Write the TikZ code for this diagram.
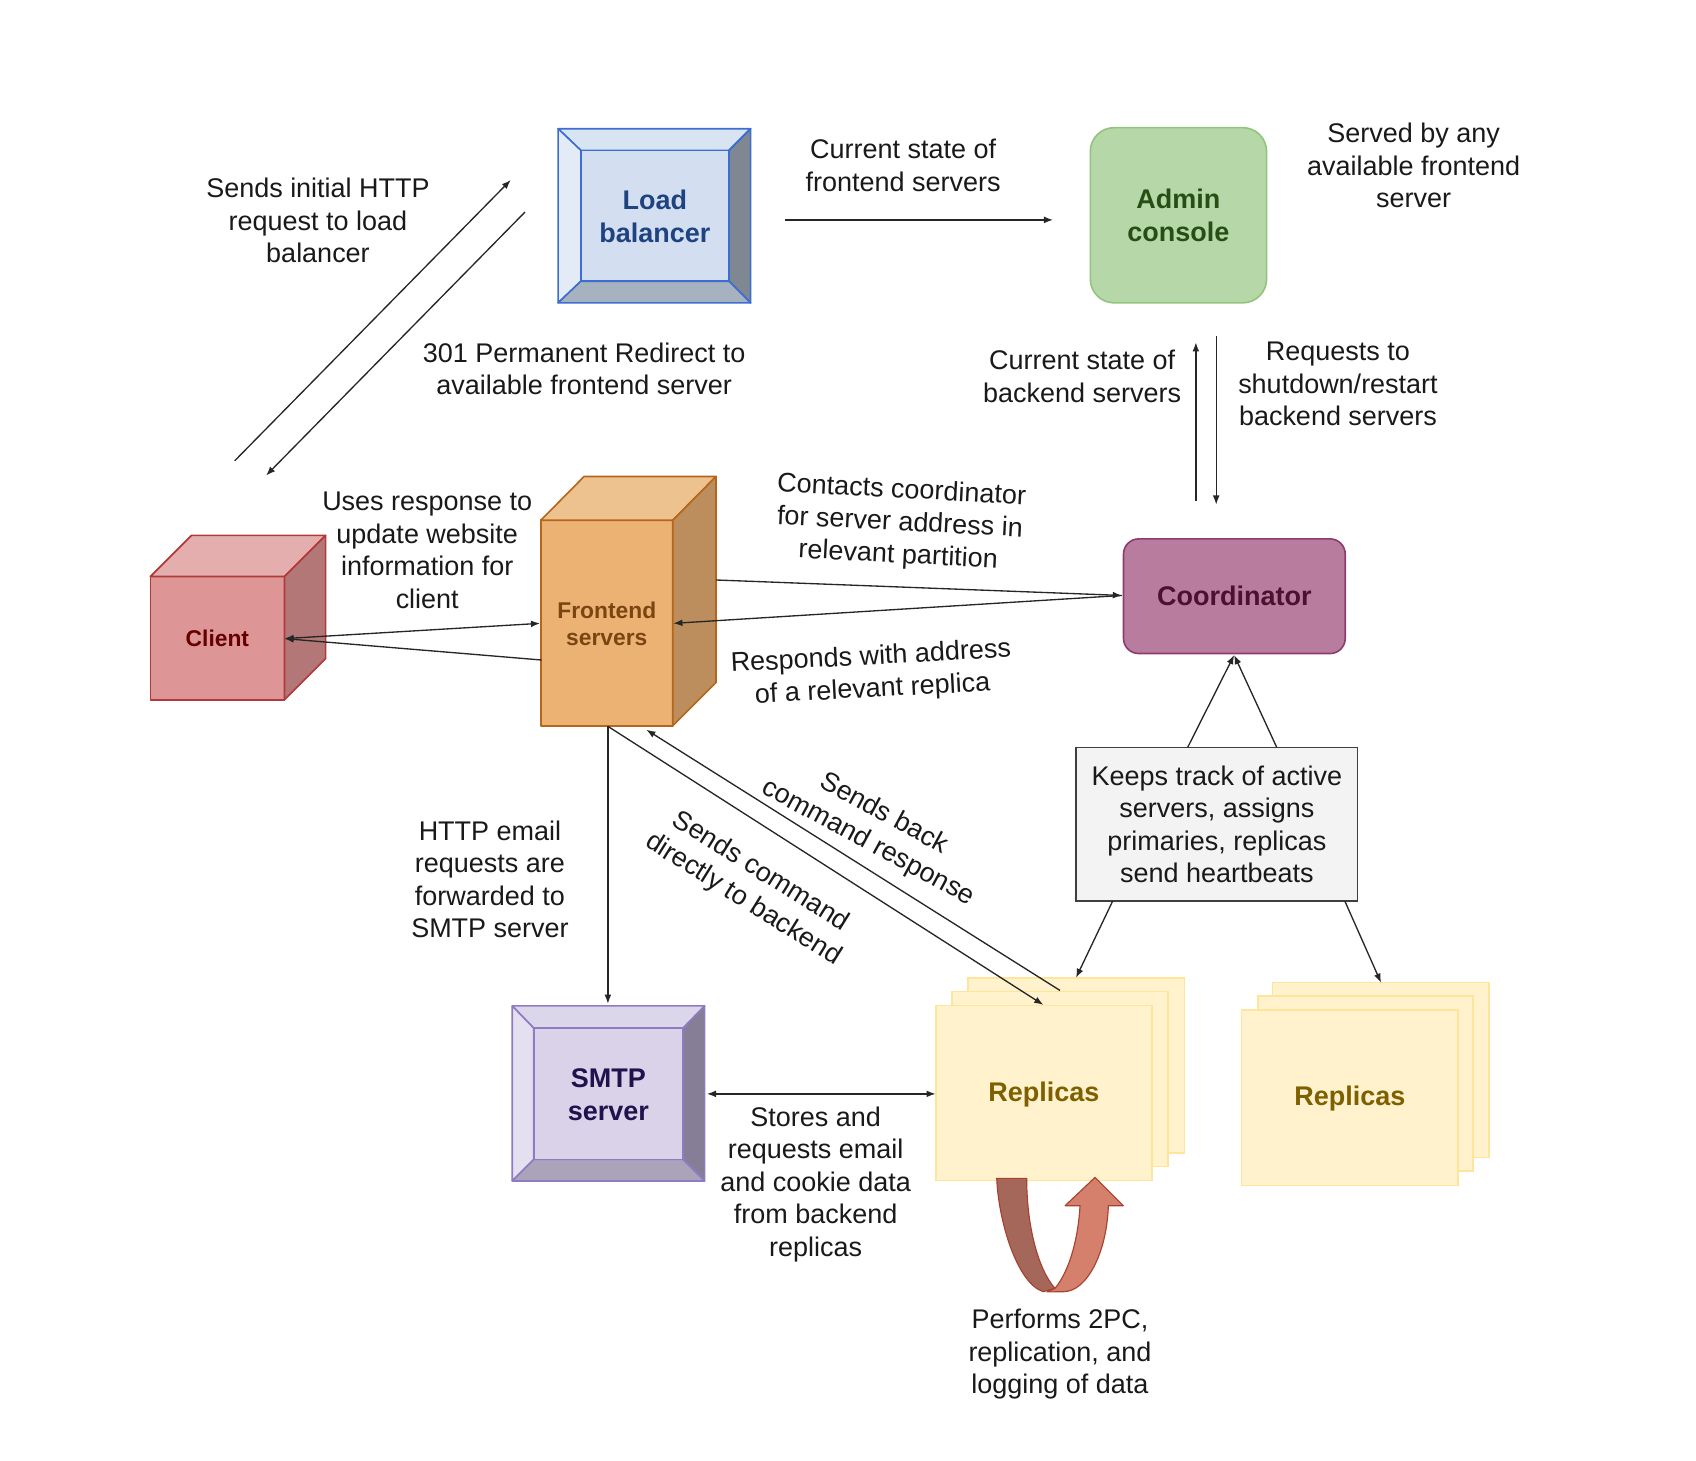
\documentclass[tikz,border=0pt]{standalone}
\usepackage{fontspec}
\setmainfont{Liberation Sans}
\usetikzlibrary{arrows.meta}
\definecolor{lbtop}{HTML}{D9E4F3}
\definecolor{lbleft}{HTML}{E3EBF7}
\definecolor{lbin}{HTML}{D3DFF0}
\definecolor{lbright}{HTML}{7E8792}
\definecolor{lbbot}{HTML}{A7B2C0}
\definecolor{lbline}{HTML}{3C6DD3}
\definecolor{lbtext}{HTML}{1F4380}
\definecolor{smtop}{HTML}{DCD6EA}
\definecolor{smleft}{HTML}{E4E0EF}
\definecolor{smin}{HTML}{D9D2E9}
\definecolor{smright}{HTML}{857E96}
\definecolor{smbot}{HTML}{AAA3B9}
\definecolor{smline}{HTML}{8E7CC3}
\definecolor{smtext}{HTML}{20124D}
\definecolor{adfill}{HTML}{B6D7A8}
\definecolor{adline}{HTML}{93C47D}
\definecolor{adtext}{HTML}{274E13}
\definecolor{cofill}{HTML}{B77C9E}
\definecolor{coline}{HTML}{8E3C6E}
\definecolor{cotext}{HTML}{4C1130}
\definecolor{clfront}{HTML}{DE9595}
\definecolor{cltop}{HTML}{E4AEAE}
\definecolor{clright}{HTML}{B37777}
\definecolor{clline}{HTML}{B03A3A}
\definecolor{cltext}{HTML}{660000}
\definecolor{fefront}{HTML}{EBB274}
\definecolor{fetop}{HTML}{EEC28E}
\definecolor{feright}{HTML}{BC8E5D}
\definecolor{feline}{HTML}{B4661C}
\definecolor{fetext}{HTML}{7A4510}
\definecolor{rpfill}{HTML}{FFF2CC}
\definecolor{rpline}{HTML}{FFE599}
\definecolor{rptext}{HTML}{7F6000}
\definecolor{kpfill}{HTML}{F3F3F3}
\definecolor{kpline}{HTML}{3F3F3F}
\definecolor{uadark}{HTML}{A6675B}
\definecolor{ualight}{HTML}{D4806C}
\definecolor{ualine}{HTML}{A8412F}
\begin{document}
\begin{tikzpicture}[x=0.02cm,y=-0.02cm,
  txt/.style={align=center,font=\fontsize{14.2}{17.1}\selectfont,inner sep=0pt,text=black!90},
  btxt/.style={align=center,font=\fontsize{14.2}{17.1}\selectfont\bfseries,inner sep=0pt},
  sbtxt/.style={align=center,font=\fontsize{12}{14.2}\selectfont\bfseries,inner sep=0pt},
  conn/.style={line width=0.7pt,draw=black!85},
  arr/.style={conn,-{Latex[length=4.8pt,width=3.6pt]}},
  darr/.style={conn,{Latex[length=4.8pt,width=3.6pt]}-{Latex[length=4.8pt,width=3.6pt]}},
  facet/.style={line width=0.85pt,line join=round},
  repbox/.style={fill=rpfill,draw=rpline,line width=0.8pt}]
\useasboundingbox (0,0) rectangle (1568,1350);

% ---------- Load balancer (bevel) ----------
\begin{scope}[facet,draw=lbline]
\filldraw[fill=lbtop] (516,119)--(694,119)--(674,139)--(537,139)--cycle;
\filldraw[fill=lbleft] (516,119)--(537,139)--(537,260)--(516,280)--cycle;
\filldraw[fill=lbright] (694,119)--(694,280)--(674,260)--(674,139)--cycle;
\filldraw[fill=lbbot] (516,280)--(694,280)--(674,260)--(537,260)--cycle;
\filldraw[fill=lbin] (537,139) rectangle (674,260);
\end{scope}
\node[btxt,text=lbtext] (lb) at (605.5,200) {Load\\balancer};

% ---------- Admin console ----------
\node[btxt,text=adtext,fill=adfill,draw=adline,line width=0.85pt,rounded corners=0.44cm,
  minimum width=3.26cm,minimum height=3.24cm] (admin) at (1089.5,199) {Admin\\console};

% ---------- Client cube ----------
\begin{scope}[facet,draw=clline]
\filldraw[fill=clfront] (139,533) rectangle (263,647);
\filldraw[fill=cltop] (139,533)--(177,495)--(301,495)--(263,533)--cycle;
\filldraw[fill=clright] (263,533)--(301,495)--(301,609)--(263,647)--cycle;
\end{scope}
\node[sbtxt,text=cltext] (client) at (201,590) {Client};

% ---------- Frontend cube ----------
\begin{scope}[facet,draw=feline]
\filldraw[fill=fefront] (500,481) rectangle (622,671);
\filldraw[fill=fetop] (500,481)--(540,440.5)--(662,440.5)--(622,481)--cycle;
\filldraw[fill=feright] (622,481)--(662,440.5)--(662,631)--(622,671)--cycle;
\end{scope}
\node[sbtxt,text=fetext] (fe) at (561,577) {Frontend\\servers};

% ---------- Coordinator ----------
\node[btxt,text=cotext,fill=cofill,draw=coline,line width=0.85pt,rounded corners=0.28cm,
  minimum width=4.1cm,minimum height=2.12cm] (coord) at (1141.2,551.2) {Coordinator};

% ---------- Keeps track box ----------
\node[txt,fill=kpfill,draw=kpline,line width=0.85pt,
  minimum width=5.2cm,minimum height=2.84cm] (keeps) at (1125,762) {Keeps track of active\\servers, assigns\\primaries, replicas\\send heartbeats};

% ---------- SMTP (bevel) ----------
\begin{scope}[facet,draw=smline]
\filldraw[fill=smtop] (473.6,930)--(651.4,930)--(631.5,950.6)--(493.5,950.6)--cycle;
\filldraw[fill=smleft] (473.6,930)--(493.5,950.6)--(493.5,1071.9)--(473.6,1091.8)--cycle;
\filldraw[fill=smright] (651.4,930)--(651.4,1091.8)--(631.5,1071.9)--(631.5,950.6)--cycle;
\filldraw[fill=smbot] (473.6,1091.8)--(651.4,1091.8)--(631.5,1071.9)--(493.5,1071.9)--cycle;
\filldraw[fill=smin] (493.5,950.6) rectangle (631.5,1071.9);
\end{scope}
\node[btxt,text=smtext] (smtp) at (562.5,1012) {SMTP\\server};

% ---------- Replicas stacks ----------
\draw[repbox] (895,904) rectangle (1095,1066);
\draw[repbox] (880,916.5) rectangle (1080,1078.5);
\draw[repbox] (865.5,929.5) rectangle (1065,1091.5);
\node[btxt,text=rptext] (repA) at (965,1012) {Replicas};
\draw[repbox] (1176.6,908.5) rectangle (1376.4,1070.3);
\draw[repbox] (1163,920.6) rectangle (1361.6,1082.4);
\draw[repbox] (1148,933.8) rectangle (1348,1096);
\node[btxt,text=rptext] (repB) at (1248,1016) {Replicas};

% ---------- U-turn arrow ----------
\filldraw[fill=uadark,draw=ualine,line width=0.6pt,line join=round]
  (921.5,1089.4) -- (949.2,1089.4) .. controls (949.2,1134) and (960,1174) .. (975.4,1191.1)
  -- (964.6,1194.2) .. controls (940,1186.5) and (923,1128) .. (921.5,1089.4) -- cycle;
\filldraw[fill=ualight,draw=ualine,line width=0.6pt,line join=round]
  (975.4,1191.1) .. controls (989.3,1174.2) and (997,1143.3) .. (998.5,1114.7)
  -- (984.7,1114.7) -- (1012.4,1088.5) -- (1038.6,1114.7) -- (1024.7,1114.7)
  .. controls (1023.2,1158.7) and (1004.7,1194.2) .. (983.1,1194.2) -- (968,1194.4) -- cycle;

% ---------- connector end points ----------
\coordinate (cl1) at (217,426);
\coordinate (lbIn) at (472.2,166.4);
\coordinate (lbOut) at (485.4,196);
\coordinate (cl2) at (246,439.6);
\coordinate (lbR) at (725.9,203.3);
\coordinate (adL) at (973.6,203.3);
\coordinate (coUpA) at (1105.6,462.8);
\coordinate (adUpA) at (1105.6,316.5);
\coordinate (adDnA) at (1124.4,310.8);
\coordinate (coDnA) at (1124.4,466.5);
\coordinate (clE) at (263,590.4);
\coordinate (feW1) at (499.3,576.3);
\coordinate (feW2) at (500.8,610.2);
\coordinate (feR1) at (662,536.2);
\coordinate (coW) at (1037.2,550.5);
\coordinate (feE) at (622.5,576.3);
\coordinate (coS) at (1141,605.6);
\coordinate (kpT1) at (1098,691);
\coordinate (kpT2) at (1180.4,691);
\coordinate (kpB1) at (1028.7,833);
\coordinate (rpA) at (994.8,904);
\coordinate (kpB2) at (1243.3,833);
\coordinate (rpB) at (1276.8,908.5);
\coordinate (feB) at (562,671.5);
\coordinate (smT) at (562,928);
\coordinate (rpIn) at (964.6,929);
\coordinate (rpOut) at (980,915.7);
\coordinate (feBR) at (597.5,674.6);
\coordinate (smE) at (653.6,1011.3);
\coordinate (rpW) at (865,1011.3);

% ---------- connectors ----------
\draw[arr] (cl1) -- (lbIn);
\draw[arr] (lbOut) -- (cl2);
\draw[arr] (lbR) -- (adL);
\draw[arr] (coUpA) -- (adUpA);
\draw[arr] (adDnA) -- (coDnA);
\draw[darr] (clE) -- (feW1);
\draw[arr] (feW2) -- (clE);
\draw[arr] (feR1) -- (coW);
\draw[arr] (coW) -- (feE);
\draw[arr] (kpT1) -- (coS);
\draw[arr] (kpT2) -- (coS);
\draw[arr] (kpB1) -- (rpA);
\draw[arr] (kpB2) -- (rpB);
\draw[arr] (feB) -- (smT);
\draw[arr] (feB) -- (rpIn);
\draw[arr] (rpOut) -- (feBR);
\draw[darr] (smE) -- (rpW);

% ---------- labels ----------
\node[txt] (t1) at (294,204) {Sends initial HTTP\\request to load\\balancer};
\node[txt] (t2) at (540,341) {301 Permanent Redirect to\\available frontend server};
\node[txt] (t3) at (835,153) {Current state of\\frontend servers};
\node[txt] (t4) at (1307,153) {Served by any\\available frontend\\server};
\node[txt] (t5) at (1000.5,348) {Current state of\\backend servers};
\node[txt] (t6) at (1237,355) {Requests to\\shutdown/restart\\backend servers};
\node[txt] (t7) at (395,509) {Uses response to\\update website\\information for\\client};
\node[txt,rotate=-3] (t8) at (832,484) {Contacts coordinator\\for server address in\\relevant partition};
\node[txt,rotate=3] (t9) at (806,623) {Responds with address\\of a relevant replica};
\node[txt] (t10) at (453,813) {HTTP email\\requests are\\forwarded to\\SMTP server};
\node[txt,rotate=-32] (t11) at (695,819) {Sends command\\directly to backend};
\node[txt,rotate=-28.5] (t12) at (810,766) {Sends back\\command response};
\node[txt] (t13) at (754,1095) {Stores and\\requests email\\and cookie data\\from backend\\replicas};
\node[txt] (t14) at (980,1252) {Performs 2PC,\\replication, and\\logging of data};
\end{tikzpicture}
\end{document}
